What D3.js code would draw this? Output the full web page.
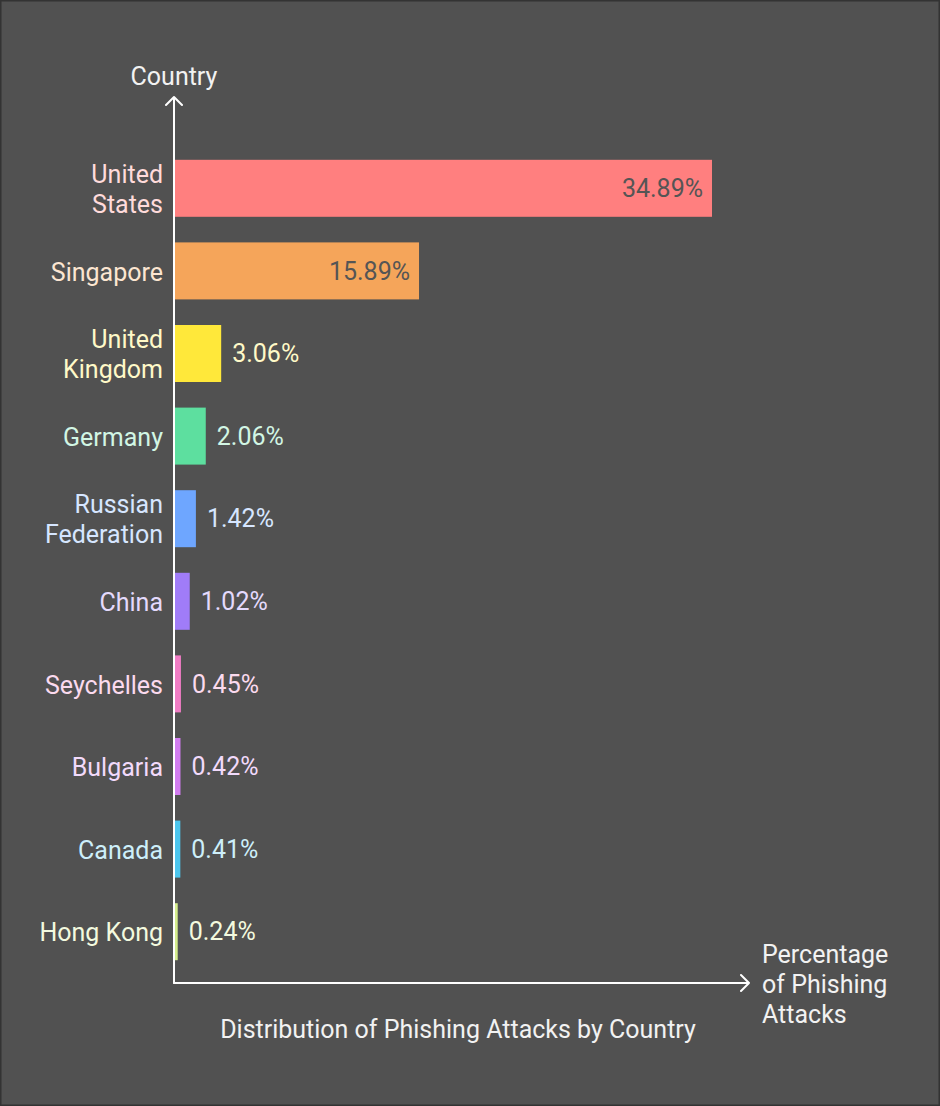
<!DOCTYPE html>
<html>
<head>
<meta charset="utf-8">
<script src="https://cdn.jsdelivr.net/npm/d3@7"></script>
<style>
  html, body { margin: 0; padding: 0; background: #515151; }
  svg { display: block; font-family: Roboto, "Noto Sans", sans-serif; }
</style>
</head>
<body>
<script>
var width = 940,
    height = 1106;

// data
var countries = ["United States", "Singapore", "United Kingdom", "Germany", "Russian Federation",
                 "China", "Seychelles", "Bulgaria", "Canada", "Hong Kong"];
var shares = [34.89, 15.89, 3.06, 2.06, 1.42, 1.02, 0.45, 0.42, 0.41, 0.24];
var barColors = ["#ff7f7f", "#f5a55a", "#ffe83a", "#5ddf9f", "#6ea6ff",
                 "#a07cf8", "#f07cc4", "#d27cf0", "#4cc6ee", "#d4ec8c"];
// label line breaks as drawn
var labelLines = [["United", "States"], ["Singapore"], ["United", "Kingdom"], ["Germany"],
                  ["Russian", "Federation"], ["China"], ["Seychelles"], ["Bulgaria"], ["Canada"], ["Hong Kong"]];

var rows = countries.map((c, i) => ({name: c, value: shares[i], color: barColors[i], lines: labelLines[i]}));

var x0 = 174, yTop = 97, yBase = 983, xEnd = 749;
var fs = 25;

var svg = d3.select("body").append("svg")
    .attr("width", width)
    .attr("height", height);

svg.append("rect")
    .attr("x", 0.75).attr("y", 0.75)
    .attr("width", width - 1.5).attr("height", height - 1.5)
    .attr("fill", "#515151")
    .attr("stroke", "#333")
    .attr("stroke-width", 1.5);

var x = d3.scaleLinear()
    .domain([0, 34.89])
    .range([x0, 712]);

var y = d3.scaleBand()
    .domain(countries)
    .range([147, 973])
    .paddingInner(0.31)
    .paddingOuter(0.155);

var tint = c => d3.interpolateRgb(c, "#ffffff")(0.72);

// bars
svg.append("g")
  .selectAll("rect")
  .data(rows)
  .join("rect")
    .attr("x", x(0))
    .attr("y", d => y(d.name))
    .attr("width", d => x(d.value) - x(0))
    .attr("height", y.bandwidth())
    .attr("fill", d => d.color);

// value labels
svg.append("g")
    .attr("font-size", fs)
  .selectAll("text")
  .data(rows)
  .join("text")
    .attr("dy", "0.35em")
    .attr("y", d => y(d.name) + y.bandwidth() / 2)
    .attr("x", d => d.value > 10 ? x(d.value) - 9 : x(d.value) + 11)
    .attr("text-anchor", d => d.value > 10 ? "end" : "start")
    .attr("fill", d => d.value > 10 ? "#555555" : tint(d.color))
    .text(d => d.value.toFixed(2) + "%");

// category labels
var lab = svg.append("g")
    .attr("font-size", fs)
    .attr("text-anchor", "end")
  .selectAll("text")
  .data(rows)
  .join("text")
    .attr("x", 163)
    .attr("y", d => y(d.name) + y.bandwidth() / 2 + 1 - (d.lines.length - 1) * 15)
    .attr("fill", d => tint(d.color));

lab.selectAll("tspan")
  .data(d => d.lines)
  .join("tspan")
    .attr("x", 163)
    .attr("dy", (d, i) => i === 0 ? "0.35em" : 30)
    .text(d => d);

// axes with open arrow heads
var axes = svg.append("g")
    .attr("stroke", "#ffffff")
    .attr("stroke-width", 2)
    .attr("fill", "none")
    .attr("stroke-linecap", "round")
    .attr("stroke-linejoin", "round");

axes.append("path")
    .attr("d", `M${x0},${yBase}V${yTop}M${x0 - 8},${yTop + 8}L${x0},${yTop}L${x0 + 8},${yTop + 8}`);
axes.append("path")
    .attr("d", `M${x0},${yBase}H${xEnd}M${xEnd - 8},${yBase - 8}L${xEnd},${yBase}L${xEnd - 8},${yBase + 8}`);

// axis titles
svg.append("text")
    .attr("x", x0)
    .attr("y", 76)
    .attr("dy", "0.35em")
    .attr("text-anchor", "middle")
    .attr("font-size", fs)
    .attr("fill", "#f2f2f2")
    .text("Country");

svg.append("text")
    .attr("x", 762)
    .attr("y", 954)
    .attr("font-size", fs)
    .attr("fill", "#f2f2f2")
  .selectAll("tspan")
  .data(["Percentage", "of Phishing", "Attacks"])
  .join("tspan")
    .attr("x", 762)
    .attr("dy", (d, i) => i === 0 ? "0.35em" : 30)
    .text(d => d);

svg.append("text")
    .attr("x", 458)
    .attr("y", 1029)
    .attr("dy", "0.35em")
    .attr("text-anchor", "middle")
    .attr("font-size", fs)
    .attr("fill", "#f2f2f2")
    .text("Distribution of Phishing Attacks by Country");
</script>
</body>
</html>
